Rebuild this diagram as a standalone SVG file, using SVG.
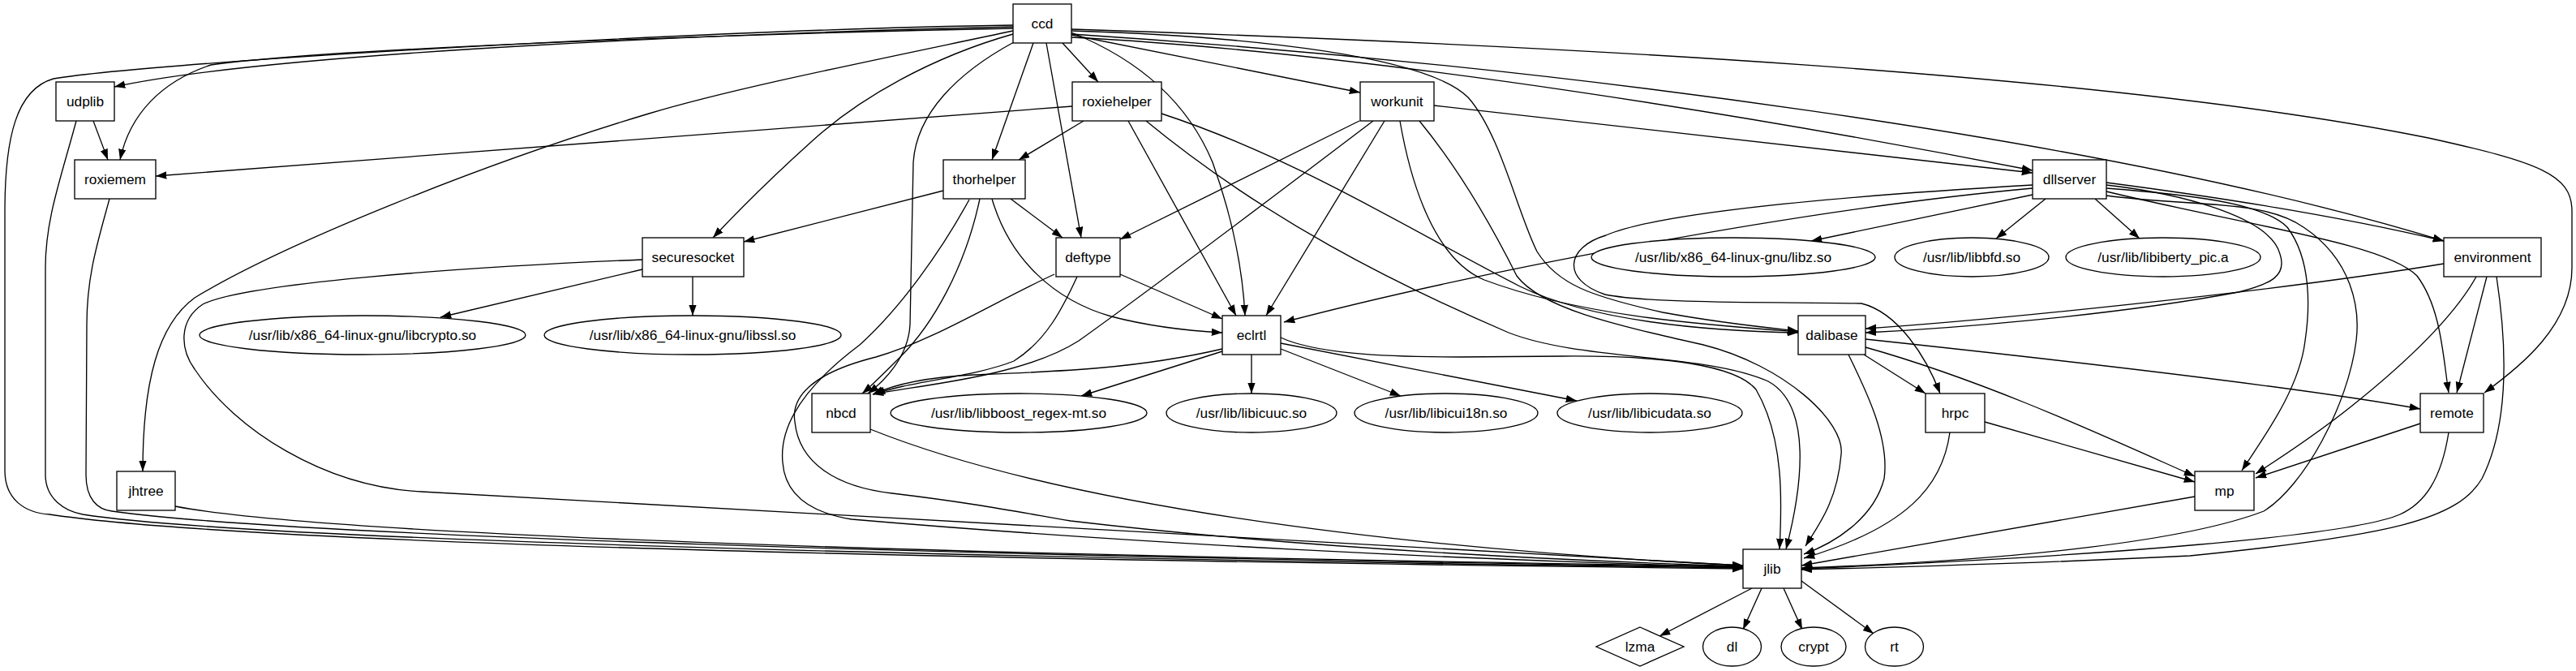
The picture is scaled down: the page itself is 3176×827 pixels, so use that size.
<svg xmlns="http://www.w3.org/2000/svg" width="3176" height="827" viewBox="0 0 3176 827">
<defs>
<marker id="ah" markerWidth="14" markerHeight="10" refX="13.3" refY="4.7" orient="auto" markerUnits="userSpaceOnUse"><path d="M0,0 L13.3,4.7 L0,9.4 z" fill="#000"/></marker>
<style>
.e{fill:none;stroke:#000;stroke-width:1.33;marker-end:url(#ah)}
.n rect,.n ellipse,.n polygon{fill:#fff;stroke:#000;stroke-width:1.33}
.n text{font-family:"Liberation Sans",Arial,sans-serif;font-size:17.3px;text-anchor:middle;fill:#000}
</style>
</defs>
<rect x="0" y="0" width="3176" height="827" fill="#fff"/>
<g id="edges">
<path class="e" d="M1249,33 C950,40 350,62 141,107"/>
<path class="e" d="M1249,35 C900,42 400,60 260,80 C200,100 160,140 148,197"/>
<path class="e" d="M1249,31 C900,36 200,75 66,97 C20,110 6,170 6,260 L6,580 C6,615 30,632 61,634 C300,670 1200,690 2149,701"/>
<path class="e" d="M94,149 C75,220 56,270 56,330 L56,585 C56,615 80,630 102,634 C300,665 1200,688 2149,700"/>
<path class="e" d="M135,245 C120,300 107,340 107,400 L106,585 C106,615 120,628 138,630 C350,660 1200,686 2149,699"/>
<path class="e" d="M216,624 C400,660 1200,685 2149,698"/>
<path class="e" d="M792,320 C550,330 300,350 250,375 C220,395 222,430 240,455 C290,530 400,600 520,606 C700,615 1400,660 2149,697"/>
<path class="e" d="M1195,246 C1160,310 1110,380 1060,425 C1000,470 960,520 965,570 C968,610 1000,632 1050,640 C1400,670 1800,690 2149,699"/>
<path class="e" d="M1300,338 C1230,370 1150,420 1080,440 C1000,460 975,490 980,520 C985,570 1030,600 1100,608 C1200,620 1250,630 1320,642 C1600,675 1900,690 2149,698"/>
<path class="e" d="M1073,529 C1300,620 1700,675 2149,697"/>
<path class="e" d="M1249,38 C1050,80 900,110 800,140 C600,200 350,300 240,367 C195,400 176,470 176,581"/>
<path class="e" d="M1249,42 C1150,70 1060,120 1000,175 C950,220 910,260 879,293"/>
<path class="e" d="M1250,52 C1180,90 1130,140 1126,200 L1122,400 C1120,440 1090,470 1070,485"/>
<path class="e" d="M1274,53 L1223,197"/>
<path class="e" d="M1290,53 L1333,293"/>
<path class="e" d="M1310,53 L1354,101"/>
<path class="e" d="M1321,40 C1420,80 1470,140 1495,200 C1520,270 1532,330 1535,389"/>
<path class="e" d="M1321,43 L1677,114"/>
<path class="e" d="M1321,38 C1550,45 1760,70 1810,120 C1850,165 1870,260 1895,310 C1920,350 1960,365 2050,385 C2120,398 2180,404 2217,408"/>
<path class="e" d="M1321,46 C1700,65 2200,150 2506,210"/>
<path class="e" d="M1321,42 C1900,80 2600,170 3013,297"/>
<path class="e" d="M1321,36 C1900,55 2600,90 2994,170 C3130,200 3171,215 3171,260 L3171,330 C3171,400 3110,450 3063,484"/>
<path class="e" d="M115,149 L133,197"/>
<path class="e" d="M1322,131 L192,217"/>
<path class="e" d="M1336,149 L1256,197"/>
<path class="e" d="M1391,149 L1524,389"/>
<path class="e" d="M1432,140 C1600,195 1750,290 1874,353 C1960,395 2100,408 2217,410"/>
<path class="e" d="M1413,149 C1560,270 1720,350 1860,410 C1950,445 2100,435 2180,470 C2235,500 2222,600 2202,677"/>
<path class="e" d="M1676,149 L1381,295"/>
<path class="e" d="M1693,149 C1560,250 1400,370 1330,420 C1260,465 1130,475 1076,486"/>
<path class="e" d="M1707,149 L1561,389"/>
<path class="e" d="M1726,149 C1740,230 1770,320 1830,345 C1950,390 2100,400 2217,409"/>
<path class="e" d="M1750,149 C1800,210 1840,280 1870,340 C1900,380 1990,400 2100,425 C2200,450 2275,520 2270,560 C2265,620 2240,650 2226,673"/>
<path class="e" d="M1768,130 L2506,213"/>
<path class="e" d="M1163,235 L917,298"/>
<path class="e" d="M1246,245 L1310,293"/>
<path class="e" d="M1223,245 C1245,320 1300,370 1370,390 C1420,403 1470,408 1507,410"/>
<path class="e" d="M1208,245 C1190,330 1150,400 1110,440 C1090,460 1075,475 1063,485"/>
<path class="e" d="M1381,338 L1507,393"/>
<path class="e" d="M1328,341 C1310,380 1290,420 1250,445 C1200,465 1120,470 1078,486"/>
<path class="e" d="M792,332 L543,391"/>
<path class="e" d="M854,341 L854,389"/>
<path class="e" d="M1507,430 C1400,455 1300,458 1200,462 C1140,465 1100,475 1076,486"/>
<path class="e" d="M1507,433 L1333,488"/>
<path class="e" d="M1543,437 L1543,485"/>
<path class="e" d="M1579,430 L1727,488"/>
<path class="e" d="M1579,423 L1944,494"/>
<path class="e" d="M1579,416 C1620,435 1700,440 1800,440 L1926,439 C2050,438 2140,450 2165,480 C2200,540 2197,620 2194,677"/>
<path class="e" d="M2506,232 C2200,260 1800,340 1583,397"/>
<path class="e" d="M2506,240 L2233,297"/>
<path class="e" d="M2522,245 L2461,294"/>
<path class="e" d="M2583,245 L2638,294"/>
<path class="e" d="M2506,228 C2300,240 2050,260 1980,290 C1930,305 1925,345 1979,363 C2040,375 2200,372 2295,374 C2340,385 2375,440 2392,485"/>
<path class="e" d="M2597,228 C2700,240 2800,270 2811,313 C2820,340 2800,350 2760,360 C2600,390 2400,405 2300,410"/>
<path class="e" d="M2597,225 C2750,245 2900,270 3013,297"/>
<path class="e" d="M2597,232 C2700,240 2790,250 2820,280 C2850,320 2848,380 2842,420 C2835,480 2790,540 2764,580"/>
<path class="e" d="M2597,236 C2780,280 2940,300 2980,340 C3010,380 3012,440 3019,484"/>
<path class="e" d="M2597,241 C2700,255 2790,245 2840,280 C2900,320 2910,380 2905,420 C2895,500 2840,600 2791,630 C2700,665 2500,690 2221,700"/>
<path class="e" d="M3013,325 C2800,360 2450,395 2300,405"/>
<path class="e" d="M3066,341 L3029,484"/>
<path class="e" d="M3053,341 C3020,400 2950,460 2900,500 C2850,540 2810,565 2781,584"/>
<path class="e" d="M3078,341 C3090,420 3095,520 3060,590 C3030,640 2950,660 2700,685 C2500,695 2300,700 2221,702"/>
<path class="e" d="M2298,437 L2374,485"/>
<path class="e" d="M2300,428 C2450,470 2600,540 2706,587"/>
<path class="e" d="M2300,418 C2600,450 2850,480 2984,504"/>
<path class="e" d="M2279,437 C2300,480 2330,540 2323,590 C2310,640 2260,670 2224,683"/>
<path class="e" d="M2447,520 L2706,594"/>
<path class="e" d="M2404,533 C2395,600 2350,650 2224,688"/>
<path class="e" d="M2984,522 L2781,589"/>
<path class="e" d="M3019,533 C3010,590 2990,620 2959,634 C2900,660 2600,685 2221,701"/>
<path class="e" d="M2706,612 L2221,697"/>
<path class="e" d="M2160,725 L2046,784"/>
<path class="e" d="M2172,725 L2149,776"/>
<path class="e" d="M2199,725 L2222,776"/>
<path class="e" d="M2221,716 L2310,781"/>
</g>
<g id="ccd" class="n"><rect x="1249" y="5" width="72" height="48"/><text x="1285" y="34.5">ccd</text></g>
<g id="udplib" class="n"><rect x="69" y="101" width="72" height="48"/><text x="105" y="130.5">udplib</text></g>
<g id="roxiemem" class="n"><rect x="92" y="197" width="100" height="48"/><text x="142" y="226.5">roxiemem</text></g>
<g id="roxiehelper" class="n"><rect x="1322" y="101" width="110" height="48"/><text x="1377" y="130.5">roxiehelper</text></g>
<g id="workunit" class="n"><rect x="1677" y="101" width="91" height="48"/><text x="1722.5" y="130.5">workunit</text></g>
<g id="thorhelper" class="n"><rect x="1163" y="197" width="101" height="48"/><text x="1213.5" y="226.5">thorhelper</text></g>
<g id="dllserver" class="n"><rect x="2506" y="197" width="91" height="48"/><text x="2551.5" y="226.5">dllserver</text></g>
<g id="securesocket" class="n"><rect x="792" y="293" width="125" height="48"/><text x="854.5" y="322.5">securesocket</text></g>
<g id="deftype" class="n"><rect x="1302" y="293" width="79" height="48"/><text x="1341.5" y="322.5">deftype</text></g>
<g id="environment" class="n"><rect x="3013" y="293" width="120" height="48"/><text x="3073" y="322.5">environment</text></g>
<g id="eclrtl" class="n"><rect x="1507" y="389" width="72" height="48"/><text x="1543" y="418.5">eclrtl</text></g>
<g id="dalibase" class="n"><rect x="2217" y="389" width="83" height="48"/><text x="2258.5" y="418.5">dalibase</text></g>
<g id="nbcd" class="n"><rect x="1001" y="485" width="72" height="48"/><text x="1037" y="514.5">nbcd</text></g>
<g id="hrpc" class="n"><rect x="2374" y="485" width="73" height="48"/><text x="2410.5" y="514.5">hrpc</text></g>
<g id="remote" class="n"><rect x="2984" y="485" width="78" height="48"/><text x="3023" y="514.5">remote</text></g>
<g id="jhtree" class="n"><rect x="144" y="581" width="72" height="48"/><text x="180" y="610.5">jhtree</text></g>
<g id="mp" class="n"><rect x="2706" y="581" width="73" height="48"/><text x="2742.5" y="610.5">mp</text></g>
<g id="jlib" class="n"><rect x="2149" y="677" width="72" height="48"/><text x="2185" y="706.5">jlib</text></g>
<g id="libcrypto" class="n"><ellipse cx="447" cy="413" rx="201" ry="24"/><text x="447" y="418.5">/usr/lib/x86_64-linux-gnu/libcrypto.so</text></g>
<g id="libssl" class="n"><ellipse cx="854" cy="413" rx="183" ry="24"/><text x="854" y="418.5">/usr/lib/x86_64-linux-gnu/libssl.so</text></g>
<g id="libz" class="n"><ellipse cx="2137" cy="317" rx="175" ry="24"/><text x="2137" y="322.5">/usr/lib/x86_64-linux-gnu/libz.so</text></g>
<g id="libbfd" class="n"><ellipse cx="2431" cy="317" rx="95" ry="24"/><text x="2431" y="322.5">/usr/lib/libbfd.so</text></g>
<g id="libiberty" class="n"><ellipse cx="2667" cy="317" rx="120" ry="24"/><text x="2667" y="322.5">/usr/lib/libiberty_pic.a</text></g>
<g id="libboost" class="n"><ellipse cx="1256" cy="509" rx="158" ry="24"/><text x="1256" y="514.5">/usr/lib/libboost_regex-mt.so</text></g>
<g id="libicuuc" class="n"><ellipse cx="1543" cy="509" rx="105" ry="24"/><text x="1543" y="514.5">/usr/lib/libicuuc.so</text></g>
<g id="libicui18n" class="n"><ellipse cx="1783" cy="509" rx="113" ry="24"/><text x="1783" y="514.5">/usr/lib/libicui18n.so</text></g>
<g id="libicudata" class="n"><ellipse cx="2034" cy="509" rx="114" ry="24"/><text x="2034" y="514.5">/usr/lib/libicudata.so</text></g>
<g id="lzma" class="n"><polygon points="2022,773 2076,797 2022,821 1968,797"/><text x="2022" y="802.5">lzma</text></g>
<g id="dl" class="n"><ellipse cx="2135.5" cy="797" rx="36" ry="24"/><text x="2135.5" y="802.5">dl</text></g>
<g id="crypt" class="n"><ellipse cx="2236" cy="797" rx="40" ry="24"/><text x="2236" y="802.5">crypt</text></g>
<g id="rt" class="n"><ellipse cx="2335.5" cy="797" rx="36" ry="24"/><text x="2335.5" y="802.5">rt</text></g>
</svg>
